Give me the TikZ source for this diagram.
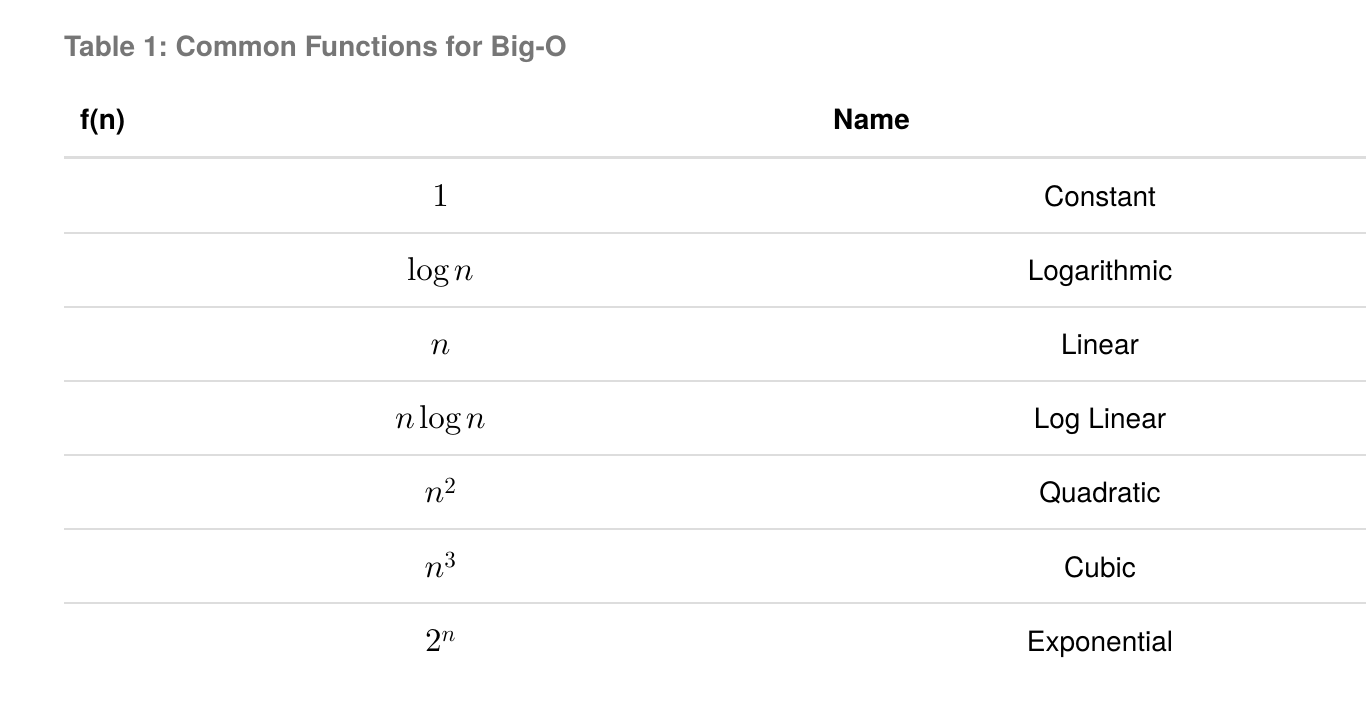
\documentclass[tikz,border=0pt]{standalone}
\usepackage[no-math]{fontspec}
\setmainfont{TeX Gyre Heros}
\usepackage{tikz}
\usetikzlibrary{positioning}
\frenchspacing
% scale the design-size 10 math fonts to any size
\DeclareFontShape{OT1}{cmr}{m}{n}{<->cmr10}{}
\DeclareFontShape{OML}{cmm}{m}{it}{<->cmmi10}{}

\definecolor{captiongray}{HTML}{767676}
\definecolor{rulegray}{HTML}{DDDDDD}

\begin{document}
\begin{tikzpicture}[
        x=1pt, y=-1pt,
        % Styles
        tabtitle/.style={% For the table title
            anchor=base west,
            inner sep=0pt,
            text=captiongray,
            font=\fontsize{28}{34}\selectfont\bfseries,
            },
        head/.style={% For the column heads
            anchor=base west,
            inner sep=0pt,
            font=\fontsize{28}{34}\selectfont\bfseries,
            },
        fncell/.style={% For the math entries
            anchor=base,
            inner sep=0pt,
            font=\fontsize{33}{40}\selectfont,
            },
        namecell/.style={% For the names
            anchor=base,
            inner sep=0pt,
            font=\fontsize{28}{34}\selectfont,
            },
        HeadRule/.style={% Thick line under the heads
            draw=rulegray,
            line width=3pt,
            },
        RowRule/.style={% Thin lines between rows
            draw=rulegray,
            line width=1.5pt,
            },
        ]

    \useasboundingbox (0,0) rectangle (1366,708);

    % Title
        \node [tabtitle] (title) at (64,57) {Table 1: Common Functions for Big-O};

    % Heads
        \node [head] (hfn) at (80,130) {f(n)};
        \node [head] (hname) at (833,130) {Name};

    % Rules
        \draw [HeadRule] (64,157.5) -- (1383,157.5);
        \draw [RowRule] (64,233) -- (1383,233);
        \draw [RowRule] (64,307) -- (1383,307);
        \draw [RowRule] (64,381) -- (1383,381);
        \draw [RowRule] (64,455) -- (1383,455);
        \draw [RowRule] (64,529) -- (1383,529);
        \draw [RowRule] (64,603) -- (1383,603);

    % Rows named fn# and name#
        \node [fncell] (fn1) at (440.5,207) {$1$};
        \node [namecell] (name1) at (1100,207) {Constant};

        \node [fncell] (fn2) at (440.5,281) {$\log n$};
        \node [namecell] (name2) at (1100,281) {Logarithmic};

        \node [fncell] (fn3) at (440.5,355) {$n$};
        \node [namecell] (name3) at (1100,355) {Linear};

        \node [fncell] (fn4) at (440.5,429) {$n\log n$};
        \node [namecell] (name4) at (1100,429) {Log Linear};

        \node [fncell] (fn5) at (440.5,503) {$n^2$};
        \node [namecell] (name5) at (1100,503) {Quadratic};

        \node [fncell] (fn6) at (440.5,577) {$n^3$};
        \node [namecell] (name6) at (1100,577) {Cubic};

        \node [fncell] (fn7) at (440.5,651) {$2^n$};
        \node [namecell] (name7) at (1100,651) {Exponential};

\end{tikzpicture}
\end{document}
